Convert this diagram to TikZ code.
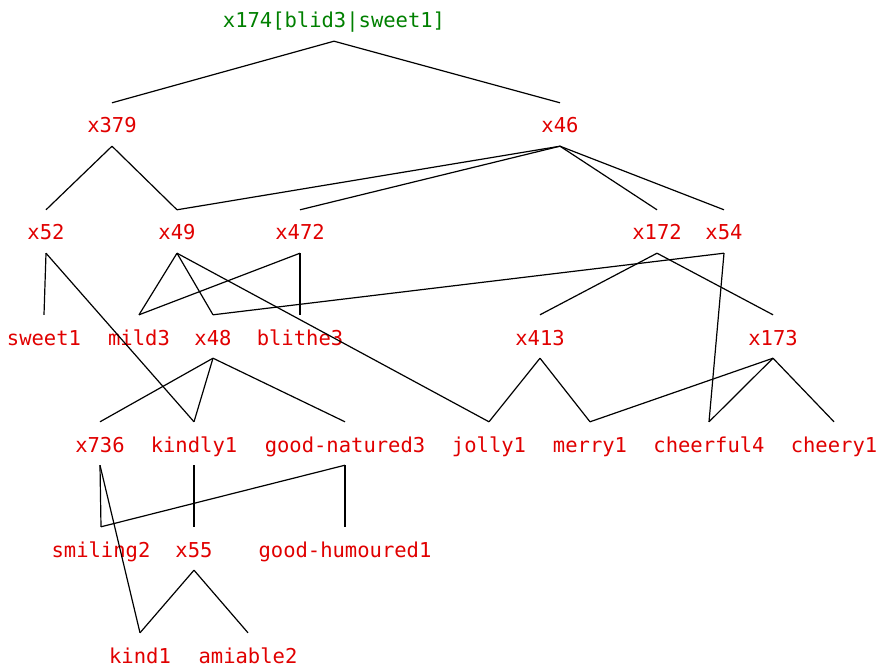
\documentclass[tikz,border=0pt]{standalone}
\usepackage{fontspec}
\usepackage{xcolor}
\usepackage{tikz}
\usetikzlibrary{positioning}
\newfontfamily\pixfont{DejaVu Sans Mono}
\definecolor{synred}{RGB}{224,0,0}
\definecolor{syngreen}{RGB}{0,128,0}

\begin{document}
\begin{tikzpicture}[x=1pt, y=-1pt,
    word/.style={anchor=base, inner xsep=0pt, inner ysep=4pt, text height=26pt, text depth=9pt,
      font=\pixfont\fontsize{20.5}{22}\selectfont, text=synred},
    link/.style={line width=1.2pt, black}]
    \useasboundingbox (0,0) rectangle (877,668);
    % root
    \node[word, text=syngreen] (top) at (334,28) {x174[blid3|sweet1]};
    %
    \node[word] (x379) at (112,133) {x379};
    \node[word] (x46) at (560,133) {x46};
    %
    \node[word] (x52) at (46,240) {x52};
    \node[word] (x49) at (177,240) {x49};
    \node[word] (x472) at (300,240) {x472};
    \node[word] (x172) at (657,240) {x172};
    \node[word] (x54) at (724,240) {x54};
    %
    \node[word] (sweet) at (44,345) {sweet1};
    \node[word] (mild) at (139,345) {mild3};
    \node[word] (x48) at (213,345) {x48};
    \node[word] (blithe) at (300,345) {blithe3};
    \node[word] (x413) at (540,345) {x413};
    \node[word] (x173) at (773,345) {x173};
    %
    \node[word] (x736) at (100,452) {x736};
    \node[word] (kindly) at (194,452) {kindly1};
    \node[word] (gnatured) at (345,452) {good-natured3};
    \node[word] (jolly) at (489,452) {jolly1};
    \node[word] (merry) at (590,452) {merry1};
    \node[word] (cheerful) at (709,452) {cheerful4};
    \node[word] (cheery) at (834,452) {cheery1};
    %
    \node[word] (smiling) at (101,557) {smiling2};
    \node[word] (x55) at (194,557) {x55};
    \node[word] (ghumoured) at (345,557) {good-humoured1};
    %
    \node[word] (kind) at (140,663) {kind1};
    \node[word] (amiable) at (248,663) {amiable2};
    %
    \draw[link] (top.south) -- (x379.north);
    \draw[link] (top.south) -- (x46.north);
    %
    \draw[link] (x379.south) -- (x52.north);
    \draw[link] (x379.south) -- (x49.north);
    \draw[link] (x46.south) -- (x49.north);
    \draw[link] (x46.south) -- (x472.north);
    \draw[link] (x46.south) -- (x172.north);
    \draw[link] (x46.south) -- (x54.north);
    %
    \draw[link] (x52.south) -- (sweet.north);
    \draw[link] (x52.south) -- (kindly.north);
    \draw[link] (x49.south) -- (mild.north);
    \draw[link] (x49.south) -- (x48.north);
    \draw[link] (x49.south) -- (jolly.north);
    \draw[link] (x472.south) -- (mild.north);
    \draw[link] (x472.south) -- (blithe.north);
    \draw[link] (x172.south) -- (x413.north);
    \draw[link] (x172.south) -- (x173.north);
    \draw[link] (x54.south) -- (x48.north);
    \draw[link] (x54.south) -- (cheerful.north);
    %
    \draw[link] (x48.south) -- (x736.north);
    \draw[link] (x48.south) -- (kindly.north);
    \draw[link] (x48.south) -- (gnatured.north);
    \draw[link] (x413.south) -- (jolly.north);
    \draw[link] (x413.south) -- (merry.north);
    \draw[link] (x173.south) -- (merry.north);
    \draw[link] (x173.south) -- (cheerful.north);
    \draw[link] (x173.south) -- (cheery.north);
    %
    \draw[link] (x736.south) -- (smiling.north);
    \draw[link] (x736.south) -- (kind.north);
    \draw[link] (kindly.south) -- (x55.north);
    \draw[link] (gnatured.south) -- (smiling.north);
    \draw[link] (gnatured.south) -- (ghumoured.north);
    \draw[link] (x55.south) -- (kind.north);
    \draw[link] (x55.south) -- (amiable.north);
\end{tikzpicture}
\end{document}
